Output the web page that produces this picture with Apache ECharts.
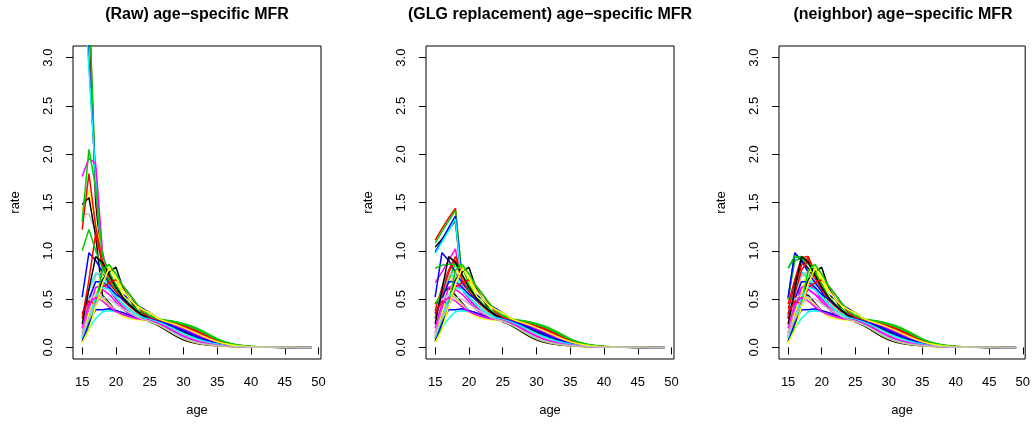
<!DOCTYPE html>
<html>
<head>
<meta charset="utf-8">
<script src="https://cdn.jsdelivr.net/npm/echarts@6/dist/echarts.min.js"></script>
<style>
html, body { margin: 0; padding: 0; background: #fff; }
#chart { width: 1033px; height: 424px; }
</style>
</head>
<body>
<div id="chart"></div>
<script>
// ages on the x axis
var ages = [15,16,17,18,19,20,21,22,23,24,25,26,27,28,29,30,31,32,33,34,35,36,37,38,39,40,41,42,43,44,45,46,47,48,49];
var xTicks = [15,20,25,30,35,40,45,50];
var yTicks = [0,0.5,1,1.5,2,2.5,3];
var panelTitles = ['(Raw) age\u2212specific MFR', '(GLG replacement) age\u2212specific MFR', '(neighbor) age\u2212specific MFR'];
// R palette(): black red green3 blue cyan magenta yellow gray
var palette = ['#000000','#ff0000','#00cd00','#0000ff','#00ffff','#ff00ff','#ffff00','#bebebe'];

// tails, ages 25..49
var tail01 = [0.33,0.30,0.285,0.275,0.262,0.245,0.225,0.197,0.162,0.124,0.088,0.06,0.04,0.025,0.016,0.011,0.007,0.005,0.003,0.002,0.002,0.001,0.001,0.001,0.001];
var tail02 = [0.32,0.295,0.28,0.27,0.255,0.236,0.214,0.186,0.152,0.115,0.081,0.055,0.036,0.023,0.015,0.01,0.006,0.004,0.003,0.002,0.001,0.001,0.001,0.001,0];
var tail03 = [0.315,0.29,0.277,0.265,0.248,0.226,0.2,0.17,0.137,0.103,0.072,0.049,0.032,0.02,0.013,0.009,0.006,0.004,0.003,0.002,0.001,0.001,0.001,0,0];
var tail04 = [0.31,0.29,0.275,0.26,0.24,0.215,0.188,0.157,0.124,0.092,0.065,0.044,0.029,0.019,0.012,0.008,0.005,0.004,0.002,0.002,0.001,0.001,0,0,0];
var tail05 = [0.36,0.31,0.275,0.255,0.232,0.205,0.176,0.145,0.113,0.084,0.059,0.04,0.027,0.017,0.011,0.007,0.005,0.003,0.002,0.001,0.001,0.001,0,0,0];
var tail06 = [0.30,0.282,0.267,0.248,0.222,0.193,0.163,0.132,0.102,0.075,0.053,0.036,0.024,0.016,0.01,0.007,0.005,0.003,0.002,0.001,0.001,0,0,0,0];
var tail07 = [0.30,0.28,0.263,0.24,0.212,0.181,0.15,0.12,0.092,0.068,0.048,0.033,0.022,0.014,0.009,0.006,0.004,0.003,0.002,0.001,0.001,0,0,0,0];
var tail08 = [0.295,0.277,0.258,0.232,0.201,0.169,0.138,0.109,0.083,0.061,0.043,0.03,0.02,0.013,0.009,0.006,0.004,0.003,0.002,0.001,0.001,0,0,0,0];
var tail09 = [0.29,0.272,0.25,0.222,0.19,0.157,0.126,0.099,0.075,0.055,0.039,0.027,0.019,0.012,0.008,0.006,0.004,0.002,0.002,0.001,0,0,0,0,0];
var tail10 = [0.29,0.268,0.244,0.213,0.179,0.145,0.115,0.089,0.067,0.049,0.035,0.025,0.017,0.012,0.008,0.005,0.003,0.002,0.001,0.001,0,0,0,0,0];
var tail11 = [0.28,0.252,0.247,0.21,0.168,0.134,0.105,0.08,0.06,0.044,0.032,0.023,0.016,0.011,0.007,0.005,0.003,0.002,0.001,0.001,0,0,0,0,0];
var tail12 = [0.285,0.26,0.232,0.197,0.16,0.125,0.096,0.073,0.054,0.04,0.029,0.021,0.015,0.01,0.007,0.005,0.003,0.002,0.001,0.001,0,0,0,0,0];
var tail13 = [0.28,0.255,0.225,0.188,0.15,0.115,0.087,0.065,0.048,0.035,0.026,0.019,0.013,0.009,0.006,0.004,0.003,0.002,0.001,0.001,0,0,0,0,0];
var tail14 = [0.275,0.25,0.218,0.178,0.138,0.104,0.077,0.057,0.042,0.031,0.023,0.017,0.012,0.008,0.006,0.004,0.003,0.002,0.001,0.001,0,0,0,0,0];
var tail15 = [0.27,0.243,0.208,0.166,0.126,0.092,0.067,0.049,0.036,0.027,0.02,0.015,0.011,0.007,0.005,0.003,0.002,0.002,0.001,0.001,0,0,0,0,0];
var tail16 = [0.265,0.236,0.198,0.154,0.112,0.078,0.055,0.04,0.03,0.022,0.017,0.013,0.009,0.006,0.004,0.003,0.002,0.001,0.001,0,0,0,0,0,0];
var tails = [tail01,tail02,tail03,tail04,tail05,tail06,tail07,tail08,tail09,tail10,tail11,tail12,tail13,tail14,tail15,tail16];

// which tail each of the 32 curves uses
var curveTail = [2,1,0,4,5,10,13,11, 3,6,8,9,12,11,15,7, 15,2,1,6,13,5,14,10, 8,3,0,7,9,12,4,14];

// raw heads, ages 15..24
var headRaw = [
  [4.5,3.5,1.5,0.8,0.62,0.52,0.45,0.39,0.35,0.32],
  [4.4,3.6,1.6,0.85,0.68,0.58,0.49,0.42,0.37,0.34],
  [4.4,3.65,1.65,0.88,0.72,0.62,0.52,0.45,0.39,0.35],
  [4.1,2.95,1.75,0.82,0.66,0.6,0.55,0.5,0.44,0.4],
  [4.0,2.88,1.75,0.8,0.6,0.5,0.42,0.36,0.32,0.31],
  [1.77,1.96,1.9,1.0,0.66,0.52,0.42,0.35,0.31,0.29],
  [1.42,1.62,1.3,0.9,0.7,0.55,0.42,0.33,0.3,0.28],
  [1.38,1.38,1.2,0.9,0.68,0.52,0.42,0.35,0.31,0.29],
  [1.48,1.55,1.15,0.54,0.46,0.38,0.36,0.33,0.31,0.31],
  [1.22,1.8,1.25,0.9,0.72,0.62,0.52,0.44,0.37,0.32],
  [1.3,2.05,1.65,0.95,0.78,0.65,0.54,0.45,0.38,0.32],
  [0.52,0.98,0.9,0.78,0.67,0.58,0.5,0.43,0.37,0.32],
  [0.3,0.6,0.77,0.73,0.62,0.53,0.45,0.39,0.34,0.3],
  [0.15,0.4,0.62,0.65,0.6,0.5,0.42,0.36,0.32,0.29],
  [0.08,0.26,0.52,0.76,0.86,0.7,0.55,0.42,0.33,0.29],
  [0.15,0.45,0.75,0.78,0.7,0.6,0.5,0.42,0.36,0.32],
  [0.1,0.3,0.5,0.7,0.78,0.83,0.62,0.5,0.4,0.31],
  [0.3,0.7,1.18,0.85,0.68,0.58,0.5,0.43,0.37,0.33],
  [1.0,1.22,1.0,0.82,0.7,0.6,0.52,0.45,0.4,0.35],
  [0.35,0.5,0.68,0.68,0.62,0.55,0.5,0.44,0.38,0.33],
  [0.06,0.2,0.3,0.37,0.38,0.37,0.35,0.33,0.31,0.29],
  [0.12,0.33,0.5,0.6,0.55,0.47,0.4,0.34,0.31,0.3],
  [0.1,0.35,0.55,0.5,0.43,0.37,0.32,0.3,0.29,0.28],
  [0.2,0.5,0.55,0.52,0.45,0.38,0.34,0.31,0.3,0.29],
  [0.24,0.6,0.94,0.88,0.75,0.62,0.52,0.44,0.38,0.33],
  [0.35,0.48,0.45,0.62,0.67,0.7,0.64,0.55,0.45,0.36],
  [0.05,0.22,0.45,0.8,0.86,0.76,0.64,0.55,0.46,0.38],
  [0.07,0.25,0.39,0.39,0.4,0.38,0.36,0.33,0.31,0.3],
  [0.1,0.3,0.52,0.62,0.6,0.52,0.45,0.39,0.34,0.31],
  [0.2,0.45,0.52,0.48,0.42,0.37,0.34,0.32,0.3,0.29],
  [0.05,0.18,0.42,0.66,0.82,0.72,0.6,0.5,0.43,0.39],
  [0.12,0.3,0.45,0.52,0.5,0.45,0.4,0.36,0.32,0.29]
];

// replaced heads, ages 15..20, for the outlying curves
var headGlg = {
  0: [1.04,1.12,1.22,1.31,0.62,0.52],
  1: [1.11,1.23,1.34,1.44,0.68,0.58],
  2: [1.08,1.2,1.31,1.42,0.72,0.62],
  3: [0.99,1.11,1.24,1.36,0.66,0.6],
  4: [0.97,1.09,1.21,1.33,0.6,0.5],
  5: [0.67,0.78,0.9,1.02,0.62,0.52],
  6: [0.45,0.58,0.7,0.8,0.72,0.55],
  7: [0.42,0.55,0.66,0.76,0.66,0.52],
  8: [0.45,0.55,0.62,0.54,0.46,0.38],
  9: [0.38,0.62,0.8,0.94,0.75,0.62],
  10: [0.45,0.55,0.7,0.87,0.84,0.65],
  17: [0.3,0.55,0.78,0.9,0.7,0.58],
  18: [0.82,0.85,0.86,0.86,0.75,0.6]
};
var headNeighbor = {
  0: [0.33,0.68,0.9,0.82,0.7,0.58],
  1: [0.45,0.7,0.93,0.94,0.78,0.62],
  2: [0.82,0.93,0.94,0.9,0.8,0.66],
  3: [0.5,0.97,0.9,0.78,0.68,0.6],
  4: [0.3,0.62,0.78,0.75,0.62,0.52],
  5: [0.3,0.5,0.62,0.6,0.55,0.5],
  6: [0.12,0.35,0.6,0.8,0.85,0.65],
  7: [0.3,0.62,0.75,0.72,0.64,0.54],
  8: [0.3,0.45,0.55,0.54,0.46,0.38],
  9: [0.4,0.62,0.85,0.93,0.76,0.62],
  10: [0.5,0.9,0.92,0.86,0.78,0.65],
  17: [0.3,0.55,0.8,0.9,0.72,0.6],
  18: [0.82,0.95,0.92,0.88,0.78,0.65]
};
var panelHeads = [{}, headGlg, headNeighbor];

var FONT = '"Liberation Sans", Arial, Helvetica, sans-serif';
var gridLefts = [73, 426, 779];

function curveValues(i, p) {
  var head = headRaw[i].slice();
  var over = panelHeads[p][i];
  if (over) {
    for (var k = 0; k < over.length; k++) head[k] = over[k];
  }
  return head.concat(tails[curveTail[i]]);
}

var grids = [], xAxes = [], yAxes = [], titles = [], series = [];
for (var p = 0; p < 3; p++) {
  grids.push({left: gridLefts[p], top: 46, width: 248, height: 313, show: true,
    borderColor: '#000', borderWidth: 1, backgroundColor: 'transparent', containLabel: false});
  titles.push({text: panelTitles[p], left: gridLefts[p] + 124, top: 7, textAlign: 'center', padding: 0,
    textStyle: {fontFamily: FONT, fontSize: 16, fontWeight: 'bold', color: '#000'}});
  xAxes.push({type: 'value', gridIndex: p, min: 13.64, max: 50.36,
    name: 'age', nameLocation: 'middle', nameGap: 45,
    nameTextStyle: {fontFamily: FONT, fontSize: 13, color: '#000'},
    axisLine: {show: false},
    axisTick: {show: true, length: 7, customValues: xTicks, lineStyle: {color: '#000', width: 1}},
    axisLabel: {customValues: xTicks, margin: 17, fontFamily: FONT, fontSize: 13, color: '#000'},
    splitLine: {show: false}});
  yAxes.push({type: 'value', gridIndex: p, min: -0.12, max: 3.12,
    name: 'rate', nameLocation: 'middle', nameGap: 51,
    nameTextStyle: {fontFamily: FONT, fontSize: 13, color: '#000'},
    axisLine: {show: false},
    axisTick: {show: true, length: 7, customValues: yTicks, lineStyle: {color: '#000', width: 1}},
    axisLabel: {customValues: yTicks, rotate: 90, margin: 18, fontFamily: FONT, fontSize: 13, color: '#000',
      formatter: function (v) { return v.toFixed(1); }},
    splitLine: {show: false}});
  for (var i = 0; i < headRaw.length; i++) {
    var vals = curveValues(i, p);
    series.push({
      type: 'line', xAxisIndex: p, yAxisIndex: p,
      data: ages.map(function (a, k) { return [a, vals[k]]; }),
      symbol: 'none', showSymbol: false, silent: true, clip: true,
      lineStyle: {width: 1.5, color: palette[i % 8]},
      itemStyle: {color: palette[i % 8]}
    });
  }
}

var myChart = echarts.init(document.getElementById('chart'));
myChart.setOption({
  animation: false,
  backgroundColor: '#fff',
  title: titles,
  grid: grids,
  xAxis: xAxes,
  yAxis: yAxes,
  series: series
});
</script>
</body>
</html>
